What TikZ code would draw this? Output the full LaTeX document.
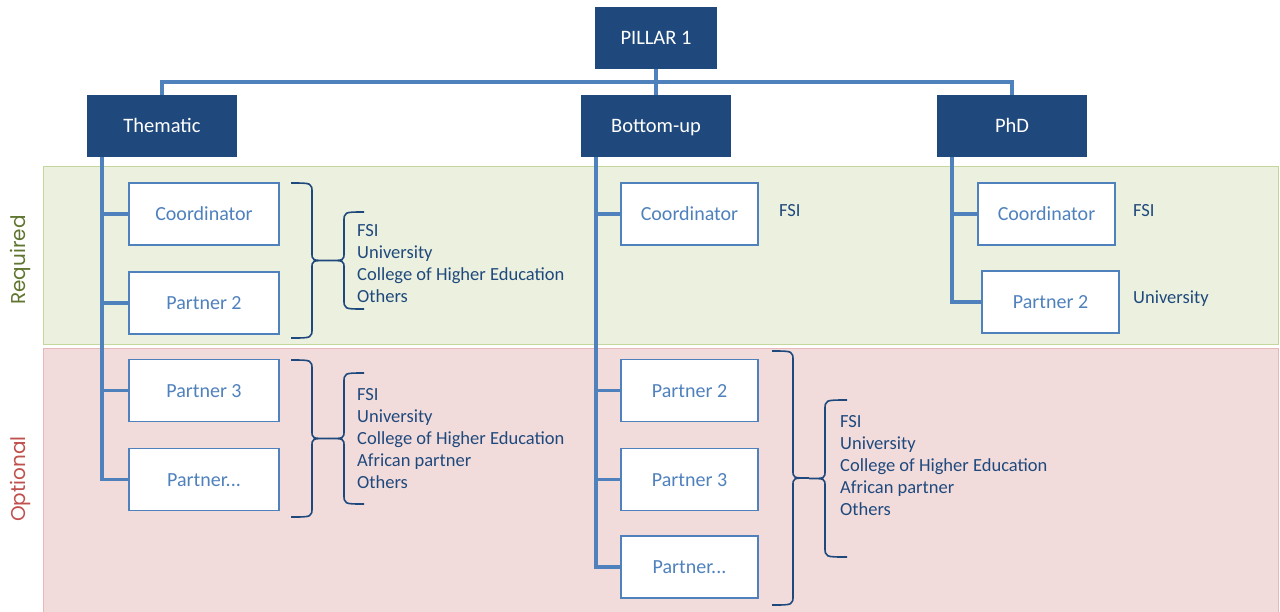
\documentclass[tikz,border=0pt]{standalone}
\usepackage{fontspec}
\setmainfont{Carlito}
\newfontfamily\bandfont{Poppins}
\usetikzlibrary{positioning,calc}

\definecolor{headblue}{HTML}{1F497D}
\definecolor{lineblue}{HTML}{4F81BD}
\definecolor{listblue}{HTML}{1F497D}
\definecolor{reqfill}{HTML}{EBF1DE}
\definecolor{reqline}{HTML}{C3D69B}
\definecolor{optfill}{HTML}{F2DCDB}
\definecolor{optline}{HTML}{E6B9B8}
\definecolor{reqtext}{HTML}{5F7530}
\definecolor{opttext}{HTML}{C0504D}

\tikzset{
  headbox/.style={fill=headblue, text=white, minimum width=150pt, minimum height=62pt,
    inner sep=0pt, text height=13pt, text depth=0pt, font=\fontsize{20.5}{24}\selectfont},
  itembox/.style={draw=lineblue, line width=1.8pt, fill=white, text=lineblue,
    minimum width=150pt, minimum height=62pt, inner sep=0pt,
    text height=13pt, text depth=0pt, font=\fontsize{20}{24}\selectfont},
  branch/.style={draw=lineblue, line width=3.5pt},
  listtext/.style={text=listblue, align=left, inner sep=0pt, font=\fontsize{18.5}{22}\selectfont},
  bandlabel/.style={rotate=90, font=\bandfont\fontsize{20}{24}\selectfont},
  curlline/.style={draw=listblue, line width=1.6pt}
}

% brace: #1 outer x, #2 inner x, #3 tip x, #4 top y, #5 bottom y
\newcommand\curlbrace[5]{%
  \draw[curlline] (#1,#4) .. controls (#2,#4) .. (#2,#4+10)
    -- ({#2},{(#4+#5)/2-8}) .. controls ({#2},{(#4+#5)/2}) .. ({#3},{(#4+#5)/2})
    .. controls ({#2},{(#4+#5)/2}) .. ({#2},{(#4+#5)/2+8})
    -- (#2,#5-10) .. controls (#2,#5) .. (#1,#5);}

\begin{document}
\begin{tikzpicture}[x=1pt,y=-1pt]
\useasboundingbox (0,0) rectangle (1280,611);

% bands
\filldraw[fill=reqfill, draw=reqline, line width=1pt] (43,166) rectangle (1278,344);
\filldraw[fill=optfill, draw=optline, line width=1pt] (43,348) rectangle (1278,612);
\node[bandlabel, text=reqtext] (req) at (20,260) {Required};
\node[bandlabel, text=opttext] (opt) at (20,479) {Optional};

% heads
\node[headbox, minimum width=122pt] (pillar) at (656,38) {PILLAR 1};
\node[headbox] (them) at (162,126) {Thematic};
\node[headbox] (bottom) at (656,126) {Bottom-up};
\node[headbox] (phd) at (1012,126) {PhD};

\coordinate (bar) at (656,82);
\draw[branch] (them.north) |- (bar) -| (phd.north);
\draw[branch] (pillar.south) -- (bottom.north);

% Thematic
\node[itembox] (tCoord) at (204,214) {Coordinator};
\node[itembox] (tPart2) at (204,303) {Partner 2};
\node[itembox] (tPart3) at (204,390.5) {Partner 3};
\node[itembox] (tPartX) at (204,479.5) {Partner...};
\coordinate (tStem) at ([xshift=15pt]them.south west);
\foreach \n in {tCoord,tPart2,tPart3}
  \draw[branch] (\n.west) -- (\n.west -| tStem);
\draw[branch] (tStem) |- (tPartX.west);

% Bottom-up
\node[itembox, minimum width=137pt] (bCoord) at (689.5,214) {Coordinator};
\node[itembox, minimum width=137pt] (bPart2) at (689.5,390.5) {Partner 2};
\node[itembox, minimum width=137pt] (bPart3) at (689.5,479.5) {Partner 3};
\node[itembox, minimum width=137pt] (bPartX) at (689.5,567) {Partner...};
\coordinate (bStem) at ([xshift=15pt]bottom.south west);
\foreach \n in {bCoord,bPart2,bPart3}
  \draw[branch] (\n.west) -- (\n.west -| bStem);
\draw[branch] (bStem) |- (bPartX.west);

% PhD
\node[itembox, minimum width=137pt] (pCoord) at (1046.5,214) {Coordinator};
\node[itembox, minimum width=137pt] (pPart2) at (1050.5,302) {Partner 2};
\coordinate (pStem) at ([xshift=15pt]phd.south west);
\draw[branch] (pCoord.west) -- (pCoord.west -| pStem);
\draw[branch] (pStem) |- (pPart2.west);

% member types
\node[listtext, anchor=base west] (bFsi) at (779,216) {FSI};
\node[listtext, anchor=base west] (pFsi) at (1133,216) {FSI};
\node[listtext, anchor=base west] (pUni) at (1133,303) {University};

\node[listtext, anchor=north west] (tReq) at (357,224)
  {FSI\\University\\College of Higher Education\\Others};
\node[listtext, anchor=north west] (tOpt) at (357,388)
  {FSI\\University\\College of Higher Education\\African partner\\Others};
\node[listtext, anchor=north west] (bOpt) at (840,415)
  {FSI\\University\\College of Higher Education\\African partner\\Others};

% braces
\curlbrace{291}{312}{328}{183}{338}
\curlbrace{364}{344}{328}{212}{309}
\curlbrace{291}{312}{328}{360}{517}
\curlbrace{364}{344}{328}{373}{504}
\curlbrace{772}{793}{809}{351}{605}
\curlbrace{847}{825}{809}{400}{557}
\end{tikzpicture}
\end{document}
